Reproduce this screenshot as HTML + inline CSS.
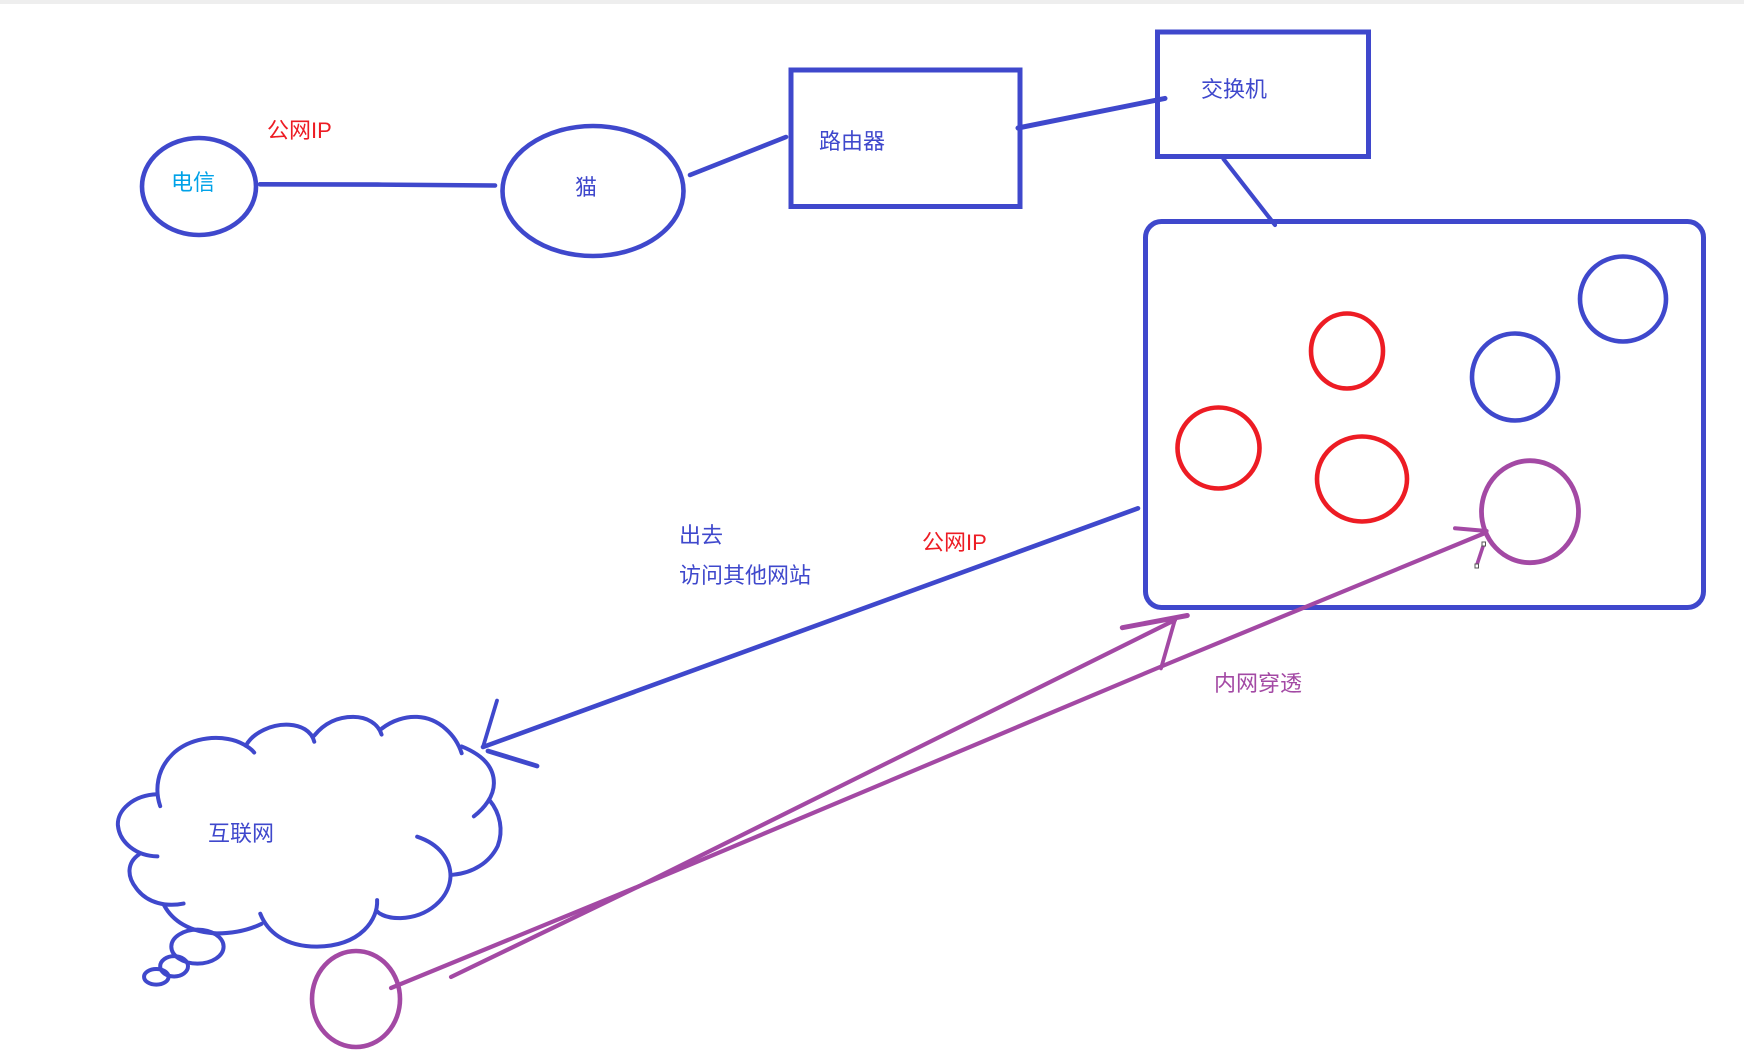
<!DOCTYPE html>
<html lang="zh">
<head>
<meta charset="utf-8">
<title>内网穿透</title>
<style>
html,body{margin:0;padding:0;background:#fff;width:1744px;height:1063px;overflow:hidden}
svg{display:block}
text{font-family:"Liberation Sans","Noto Sans CJK SC",sans-serif;font-size:22px}
.b{fill:none;stroke:#3f48cc;stroke-linecap:round;stroke-linejoin:round}
.r{fill:none;stroke:#ed1c24;stroke-width:4.6}
.p{fill:none;stroke:#a349a4;stroke-linecap:round;stroke-linejoin:round}
.c path,.c ellipse{vector-effect:non-scaling-stroke;fill:none;stroke:#3f48cc;stroke-width:4;stroke-linecap:round}
</style>
</head>
<body>
<svg width="1744" height="1063" viewBox="0 0 1744 1063" xmlns="http://www.w3.org/2000/svg">
<rect x="0" y="0" width="1744" height="4" fill="#eeeeee"/>

<!-- top chain -->
<ellipse class="b" cx="199" cy="186.5" rx="57" ry="48.5" stroke-width="4.6"/>
<path class="b" stroke-width="4.6" d="M260,184.3 L378,184.6 L495,185.5"/>
<ellipse class="b" cx="593" cy="191" rx="90.5" ry="65" stroke-width="4.6"/>
<path class="b" stroke-width="4.6" d="M690,175 L786,137"/>
<rect x="791" y="70" width="229" height="136.5" fill="none" stroke="#3f48cc" stroke-width="5"/>
<path class="b" stroke-width="5" d="M1018,128 L1165,98.4"/>
<rect x="1157.5" y="32" width="211" height="124.5" fill="none" stroke="#3f48cc" stroke-width="5"/>
<path class="b" stroke-width="4.2" d="M1223.5,159 L1275,225"/>

<!-- LAN box -->
<rect x="1145.5" y="221.5" width="558" height="386" rx="16" ry="16" fill="none" stroke="#3f48cc" stroke-width="5"/>
<ellipse class="b" cx="1623" cy="299" rx="43" ry="42.5" stroke-width="4.6"/>
<ellipse class="b" cx="1515" cy="377" rx="43" ry="43.5" stroke-width="4.6"/>
<ellipse class="r" cx="1347" cy="351" rx="36" ry="37.5"/>
<ellipse class="r" cx="1218.5" cy="448" rx="41" ry="40.5"/>
<ellipse class="r" cx="1362" cy="479" rx="45" ry="42.5"/>
<ellipse class="p" cx="1530" cy="511.7" rx="48.5" ry="51" stroke-width="4.8"/>

<!-- long blue arrow -->
<path class="b" stroke-width="4.6" d="M1138,508.3 L483,747"/>
<path class="b" stroke-width="3.8" d="M497,700.6 L483,747"/>
<path class="b" stroke-width="4.8" d="M488,751 L537,766"/>

<!-- cloud (coordinates in stretched crop space) -->
<g class="c" transform="translate(0,532) scale(0.5562,0.3393)">
<path d="M288,808 C278,760 282,700 310,655 C335,615 375,600 410,610 C430,615 450,635 457,650"/>
<path d="M442,630 C455,590 490,565 520,568 C540,570 560,585 565,618"/>
<path d="M565,600 C585,560 610,545 635,545 C660,545 680,565 686,597"/>
<path d="M686,580 C705,555 730,543 750,545 C790,548 820,600 830,652"/>
<path d="M830,632 C865,655 888,690 888,740 C888,780 870,815 852,838"/>
<path d="M880,790 C900,830 905,880 895,925 C880,975 850,1005 815,1010"/>
<path d="M750,898 C790,920 810,965 810,1015 C808,1080 770,1135 720,1138 C700,1138 685,1130 678,1118"/>
<path d="M678,1085 C680,1140 650,1220 570,1222 C510,1222 480,1175 468,1125"/>
<path d="M470,1155 C445,1175 420,1183 390,1183 C340,1180 310,1145 295,1100"/>
<path d="M330,1095 C300,1105 265,1095 245,1050 C228,1015 228,975 250,950"/>
<path d="M283,956 C245,955 215,915 212,865 C210,820 240,775 283,773"/>
<ellipse cx="355" cy="1222" rx="47" ry="50"/>
<ellipse cx="313" cy="1280" rx="25" ry="30"/>
<ellipse cx="281" cy="1311" rx="22" ry="23"/>
</g>

<!-- purple -->
<ellipse class="p" cx="356" cy="999" rx="44" ry="48" stroke-width="4.6"/>
<path class="p" stroke-width="4.2" d="M391,988 L639.5,886 L1175,620"/>
<path class="p" stroke-width="4.2" d="M451,977 L639.5,886 L1160,667 L1485,533"/>
<path class="p" stroke-width="5" d="M1122.3,627.7 L1187.3,615.5"/>
<path class="p" stroke-width="3.8" d="M1175,619.5 L1161,668.4"/>
<path class="p" stroke-width="4" d="M1455,528.3 L1486.6,531"/>
<path class="p" stroke-width="3.6" d="M1483.8,543.9 L1476.5,566"/>
<rect x="1482" y="542" width="3.5" height="4" fill="#fff" stroke="#555" stroke-width="1"/>
<rect x="1475" y="564" width="3.5" height="4" fill="#fff" stroke="#555" stroke-width="1"/>

<!-- labels -->
<text x="171" y="190" fill="#00a2e8">电信</text>
<text x="267" y="138" fill="#ed1c24">公网IP</text>
<text x="575" y="195" fill="#3f48cc">猫</text>
<text x="819" y="149" fill="#3f48cc">路由器</text>
<text x="1201" y="97" fill="#3f48cc">交换机</text>
<text x="679" y="543" fill="#3f48cc">出去</text>
<text x="679" y="583" fill="#3f48cc">访问其他网站</text>
<text x="922" y="550" fill="#ed1c24">公网IP</text>
<text x="1214" y="691" fill="#a349a4">内网穿透</text>
<text x="208" y="841" fill="#3f48cc">互联网</text>
</svg>
</body>
</html>
